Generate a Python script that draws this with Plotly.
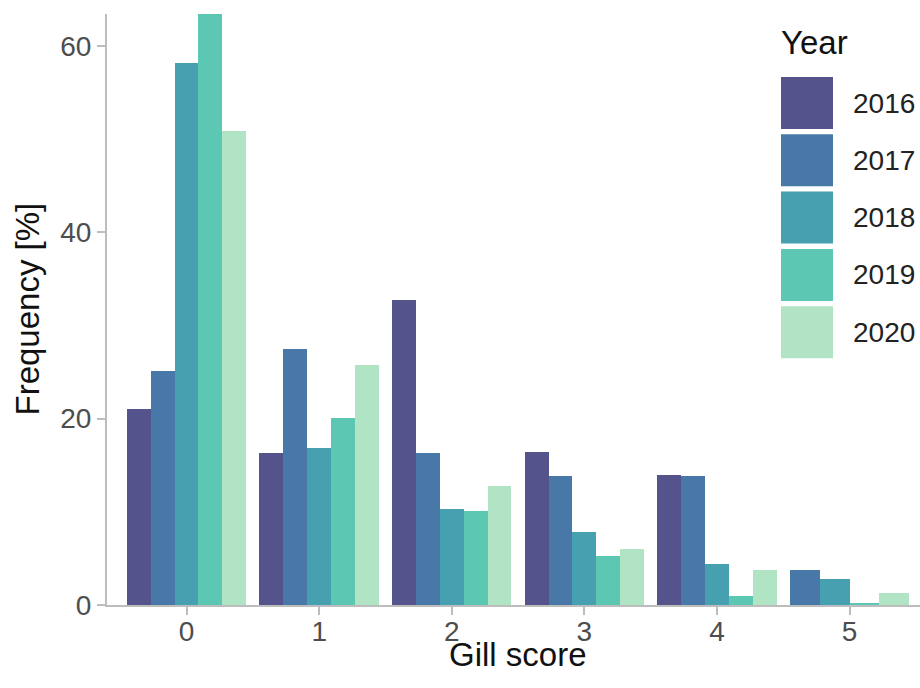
import plotly.graph_objects as go

# ---- data ----
scores = [0, 1, 2, 3, 4, 5]
score_labels = ["0", "1", "2", "3", "4", "5"]
years = ["2016", "2017", "2018", "2019", "2020"]
freq_2016 = [21.0, 16.3, 32.7, 16.4, 14.0, None]
freq_2017 = [25.1, 27.5, 16.3, 13.8, 13.8, 3.75]
freq_2018 = [58.1, 16.8, 10.3, 7.8, 4.35, 2.8]
freq_2019 = [63.4, 20.1, 10.1, 5.3, 1.0, 0.25]
freq_2020 = [50.8, 25.7, 12.75, 6.0, 3.8, 1.3]
series = [freq_2016, freq_2017, freq_2018, freq_2019, freq_2020]
colors = ["#55538B", "#4878A8", "#47A0B0", "#5CC8B4", "#B0E4C4"]

W, H = 920, 688
ML, MR, MT, MB = 107, 0, 14, 83
plot_w = W - ML - MR
plot_h = H - MT - MB
px_per_unit = 132.6
x_lo = -0.6
x_hi = x_lo + plot_w / px_per_unit
y_max = max(v for s in series for v in s if v is not None)

def px2x(px):
    return (px - ML) / plot_w

def py2y(py):
    return (H - MB - py) / plot_h

# dodge like ggplot: total width 0.9 split among present bars
group_w = 0.9
fig = go.Figure()
for yi, (yr, vals, col) in enumerate(zip(years, series, colors)):
    xs, ys, ws = [], [], []
    for ci, sc in enumerate(scores):
        if vals[ci] is None:
            continue
        present = [k for k in range(len(years)) if series[k][ci] is not None]
        n = len(present)
        w = group_w / n
        j = present.index(yi)
        xs.append(sc - group_w / 2 + w * (j + 0.5))
        ys.append(vals[ci])
        ws.append(w)
    fig.add_trace(go.Bar(x=xs, y=ys, width=ws, name=yr,
                         marker=dict(color=col, line=dict(width=0)),
                         showlegend=False))

# manual legend (ggplot style large keys)
key_x0, key_x1 = 781, 833
key_top, key_size, key_step = 77, 52, 57.3
for i, (yr, col) in enumerate(zip(years, colors)):
    t = key_top + i * key_step
    fig.add_shape(type="rect", xref="paper", yref="paper",
                  x0=px2x(key_x0), x1=px2x(key_x1),
                  y0=py2y(t + key_size), y1=py2y(t),
                  fillcolor=col, line=dict(width=0), layer="above")
    fig.add_annotation(x=px2x(851), y=py2y(t + key_size / 2), xref="paper", yref="paper",
                       text=yr, showarrow=False, xanchor="left", yanchor="middle",
                       font=dict(size=28, color="#222222"))
fig.add_annotation(x=px2x(779), y=py2y(42), xref="paper", yref="paper",
                   text="Year", showarrow=False, xanchor="left", yanchor="middle",
                   font=dict(size=33, color="#111111"))

# axis titles
fig.add_annotation(x=px2x(518), y=py2y(654), xref="paper", yref="paper",
                   text="Gill score", showarrow=False, xanchor="center", yanchor="middle",
                   font=dict(size=33, color="#111111"))
fig.add_annotation(x=px2x(27), y=0.5, xref="paper", yref="paper",
                   text="Frequency [%]", showarrow=False, textangle=-90,
                   xanchor="center", yanchor="middle",
                   font=dict(size=33, color="#111111"))

axis_col = "#BDBDBD"
fig.update_layout(
    width=W, height=H,
    margin=dict(l=ML, r=MR, t=MT, b=MB, autoexpand=False),
    barmode="overlay", bargap=0,
    plot_bgcolor="white", paper_bgcolor="white",
    font=dict(family="Liberation Sans, Arial, sans-serif"),
    xaxis=dict(range=[x_lo, x_hi], tickmode="array", tickvals=scores, ticktext=score_labels,
               showline=True, linecolor=axis_col, linewidth=2,
               ticks="outside", ticklen=8, tickwidth=1.5, tickcolor=axis_col,
               ticklabelstandoff=-8,
               tickfont=dict(size=28, color="#4D4D4D"), showgrid=False, zeroline=False),
    yaxis=dict(range=[0, y_max], tickvals=[0, 20, 40, 60],
               showline=True, linecolor=axis_col, linewidth=2,
               ticks="outside", ticklen=8, tickwidth=1.5, tickcolor=axis_col,
               tickfont=dict(size=28, color="#4D4D4D"), showgrid=False, zeroline=False),
)

fig.write_html("out.html", config={"displayModeBar": False},
               post_script="document.body.style.margin='0';document.body.style.overflow='hidden';")
